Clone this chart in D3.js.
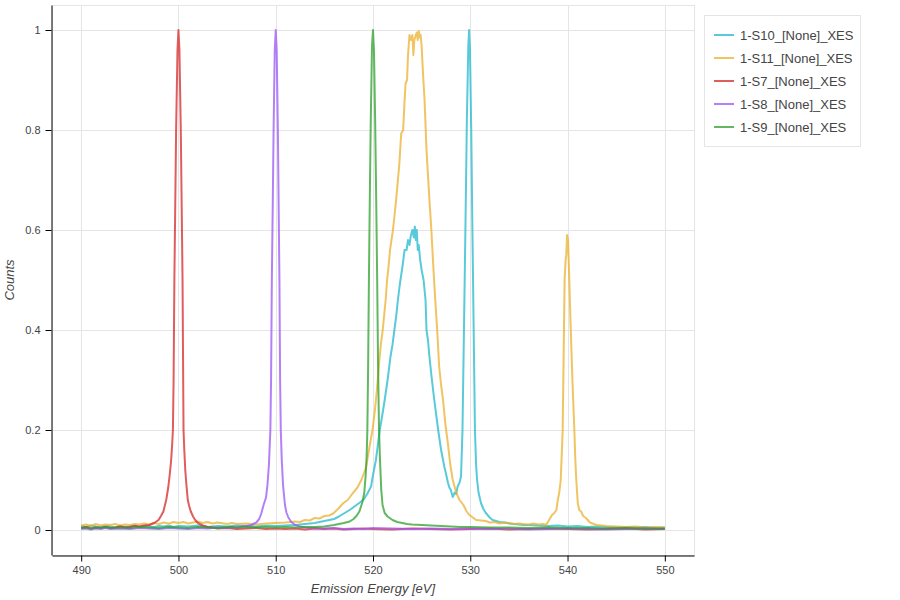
<!DOCTYPE html>
<html>
<head>
<meta charset="utf-8">
<script src="https://cdn.jsdelivr.net/npm/d3@7"></script>
<style>
  body { margin: 0; background: #fff; }
  text { font-family: "Liberation Sans", Arial, Helvetica, sans-serif; fill: #444; }
</style>
</head>
<body>
<div id="graph"></div>
<script>
// series: [energy eV, normalised counts]
const s10 = [
  [490, 0.008], [490.5, 0.006], [491, 0.009], [491.5, 0.007], [492, 0.006], [492.5, 0.008], [493, 0.007], [493.5, 0.005],
  [494, 0.008], [494.5, 0.006], [495, 0.007], [495.5, 0.009], [496, 0.006], [496.5, 0.008], [497, 0.007], [497.5, 0.006],
  [498, 0.008], [498.5, 0.007], [499, 0.009], [499.5, 0.006], [500, 0.008], [501, 0.007], [502, 0.009], [503, 0.006],
  [504, 0.008], [505, 0.007], [506, 0.009], [507, 0.008], [508, 0.007], [509, 0.009], [510, 0.008], [511, 0.009],
  [512, 0.01], [513, 0.012], [514, 0.014], [515, 0.018], [516, 0.022], [516.5, 0.027], [517, 0.033], [517.6, 0.04],
  [518.3, 0.05], [519, 0.06], [519.4, 0.072], [519.8, 0.087], [520, 0.11], [520.3, 0.14], [520.5, 0.17], [520.7, 0.2],
  [521, 0.235], [521.2, 0.26], [521.5, 0.3], [521.8, 0.347], [522, 0.37], [522.2, 0.4], [522.4, 0.43], [522.56, 0.46],
  [522.75, 0.49], [522.9, 0.51], [523.05, 0.53], [523.25, 0.56], [523.45, 0.56], [523.6, 0.58], [523.75, 0.57],
  [523.9, 0.59], [524.05, 0.6], [524.2, 0.585], [524.3, 0.607], [524.4, 0.58], [524.5, 0.6], [524.6, 0.56],
  [524.7, 0.57], [524.85, 0.54], [525, 0.52], [525.2, 0.5], [525.4, 0.46], [525.5, 0.4], [525.65, 0.38], [525.8, 0.347],
  [526, 0.31], [526.3, 0.26], [526.5, 0.23], [526.7, 0.2], [526.85, 0.18], [527, 0.16], [527.2, 0.14], [527.35, 0.125],
  [527.5, 0.113], [527.7, 0.095], [527.85, 0.085], [528, 0.08], [528.2, 0.066], [528.4, 0.075], [528.55, 0.072],
  [528.7, 0.087], [528.9, 0.095], [529.05, 0.107], [529.2, 0.2], [529.35, 0.4], [529.5, 0.6], [529.65, 0.82],
  [529.8, 0.97], [529.88, 1.0], [529.97, 0.96], [530.1, 0.8], [530.22, 0.6], [530.35, 0.4], [530.48, 0.2],
  [530.6, 0.13], [530.7, 0.1], [530.85, 0.075], [531.1, 0.054], [531.35, 0.042], [531.6, 0.034], [532, 0.025],
  [532.3, 0.02], [533, 0.016], [533.5, 0.015], [534, 0.013], [534.5, 0.012], [535, 0.011], [535.5, 0.01], [536, 0.01],
  [537, 0.009], [538, 0.008], [539, 0.009], [540, 0.007], [541, 0.008], [542, 0.006], [543, 0.007], [544, 0.006],
  [545, 0.005], [546, 0.006], [547, 0.005], [548, 0.006], [549, 0.004], [550, 0.005],
];
const s11 = [
  [490, 0.009], [490.5, 0.011], [491, 0.008], [491.5, 0.012], [492, 0.009], [492.5, 0.011], [493, 0.01], [493.5, 0.012],
  [494, 0.009], [494.5, 0.011], [495, 0.01], [495.5, 0.012], [496, 0.011], [496.5, 0.013], [497, 0.011], [497.5, 0.014],
  [498, 0.012], [498.5, 0.015], [499, 0.013], [499.5, 0.016], [500, 0.014], [500.5, 0.016], [501, 0.013], [501.5, 0.015],
  [502, 0.017], [502.5, 0.014], [503, 0.016], [503.5, 0.013], [504, 0.015], [505, 0.012], [505.5, 0.014], [506, 0.012],
  [507, 0.013], [508, 0.011], [509, 0.013], [510, 0.014], [511, 0.015], [512, 0.017], [512.5, 0.016], [513, 0.02],
  [513.5, 0.019], [514, 0.024], [514.5, 0.023], [515, 0.028], [515.5, 0.029], [515.9, 0.033], [516.4, 0.042],
  [516.9, 0.053], [517.4, 0.06], [517.9, 0.073], [518.4, 0.085], [518.8, 0.1], [519.1, 0.115], [519.3, 0.127],
  [519.5, 0.15], [519.7, 0.173], [519.95, 0.2], [520.2, 0.24], [520.4, 0.28], [520.6, 0.327], [520.8, 0.37],
  [521, 0.4], [521.15, 0.43], [521.3, 0.46], [521.45, 0.5], [521.6, 0.527], [521.75, 0.56], [521.9, 0.58],
  [522.05, 0.6], [522.2, 0.627], [522.4, 0.665], [522.56, 0.7], [522.7, 0.73], [522.9, 0.793], [523.1, 0.8],
  [523.25, 0.86], [523.35, 0.893], [523.5, 0.9], [523.6, 0.95], [523.75, 0.99], [523.9, 0.98], [524.05, 0.99],
  [524.15, 0.95], [524.25, 0.98], [524.4, 0.99], [524.5, 0.995], [524.6, 0.98], [524.7, 0.998], [524.8, 0.985],
  [524.9, 0.99], [525, 0.967], [525.15, 0.91], [525.3, 0.86], [525.5, 0.76], [525.65, 0.71], [525.8, 0.66],
  [526, 0.6], [526.2, 0.527], [526.4, 0.46], [526.6, 0.4], [526.8, 0.327], [527, 0.29], [527.2, 0.26], [527.45, 0.21],
  [527.7, 0.173], [527.95, 0.13], [528.2, 0.1], [528.55, 0.075], [528.9, 0.06], [529.3, 0.05], [529.6, 0.038],
  [529.9, 0.03], [530.2, 0.026], [530.6, 0.02], [531.1, 0.019], [531.6, 0.018], [532, 0.015], [532.5, 0.016],
  [533, 0.013], [533.5, 0.015], [534, 0.014], [534.5, 0.012], [535, 0.013], [535.4, 0.012], [536, 0.011],
  [536.5, 0.013], [537, 0.011], [537.5, 0.012], [537.8, 0.01], [538.1, 0.02], [538.4, 0.03], [538.6, 0.033],
  [538.85, 0.04], [539, 0.06], [539.15, 0.075], [539.3, 0.1], [539.4, 0.15], [539.5, 0.2], [539.6, 0.35],
  [539.7, 0.5], [539.8, 0.54], [539.87, 0.55], [539.95, 0.59], [540.05, 0.58], [540.15, 0.52], [540.3, 0.42],
  [540.5, 0.3], [540.7, 0.2], [540.8, 0.14], [540.9, 0.1], [541.05, 0.054], [541.2, 0.04], [541.4, 0.037],
  [541.6, 0.028], [541.9, 0.024], [542.3, 0.015], [542.7, 0.012], [543, 0.01], [543.5, 0.009], [544, 0.008],
  [545, 0.007], [546, 0.006], [547, 0.007], [548, 0.005], [549, 0.006], [550, 0.005],
];
const s7 = [
  [490, 0.004], [490.5, 0.006], [491, 0.003], [491.5, 0.005], [492, 0.004], [492.5, 0.006], [493, 0.004], [493.5, 0.005],
  [494, 0.007], [494.5, 0.005], [495, 0.006], [495.5, 0.008], [496, 0.007], [496.5, 0.009], [497, 0.01], [497.5, 0.014],
  [497.95, 0.02], [498.2, 0.028], [498.45, 0.037], [498.74, 0.06], [498.95, 0.085], [499.1, 0.11], [499.25, 0.14],
  [499.35, 0.17], [499.43, 0.2], [499.5, 0.3], [499.58, 0.5], [499.67, 0.65], [499.76, 0.8], [499.9, 0.96], [500, 1.0],
  [500.1, 0.96], [500.24, 0.8], [500.33, 0.65], [500.42, 0.5], [500.48, 0.32], [500.52, 0.2], [500.6, 0.16],
  [500.7, 0.12], [500.82, 0.09], [500.96, 0.06], [501.1, 0.048], [501.27, 0.037], [501.5, 0.027], [501.72, 0.02],
  [502, 0.014], [502.5, 0.009], [503, 0.006], [503.5, 0.005], [504, 0.003], [505, 0.004], [506, 0.002], [507, 0.003],
  [508, 0.004], [509, 0.002], [510, 0.003], [511, 0.002], [512, 0.003], [513, 0.001], [514, 0.003], [515, 0.002],
  [516, 0.003], [517, 0.001], [518, 0.002], [519, 0.003], [520, 0.002], [522, 0.001], [524, 0.003], [526, 0.002],
  [528, 0.001], [530, 0.002], [532, 0.003], [534, 0.001], [536, 0.002], [538, 0.003], [540, 0.002], [542, 0.001],
  [544, 0.002], [546, 0.003], [548, 0.001], [550, 0.002],
];
const s8 = [
  [490, 0.002], [490.5, 0.003], [491, 0.001], [491.5, 0.003], [492, 0.002], [492.5, 0.004], [493, 0.002], [494, 0.003],
  [495, 0.002], [496, 0.004], [497, 0.003], [498, 0.002], [499, 0.004], [500, 0.003], [501, 0.002], [502, 0.004],
  [503, 0.003], [504, 0.005], [505, 0.004], [505.5, 0.006], [506, 0.005], [506.5, 0.007], [507, 0.008], [507.5, 0.01],
  [508, 0.015], [508.3, 0.022], [508.5, 0.032], [508.75, 0.05], [509, 0.065], [509.15, 0.09], [509.3, 0.13],
  [509.45, 0.2], [509.52, 0.3], [509.6, 0.5], [509.7, 0.66], [509.78, 0.8], [509.9, 0.96], [510, 1.0], [510.1, 0.96],
  [510.22, 0.8], [510.3, 0.65], [510.38, 0.5], [510.45, 0.3], [510.52, 0.2], [510.62, 0.14], [510.75, 0.09],
  [510.95, 0.05], [511.1, 0.035], [511.3, 0.025], [511.6, 0.016], [512, 0.01], [512.5, 0.007], [513, 0.005],
  [514, 0.004], [515, 0.003], [516, 0.004], [517, 0.002], [518, 0.003], [519, 0.002], [520, 0.004], [522, 0.003],
  [524, 0.002], [526, 0.003], [528, 0.002], [530, 0.003], [532, 0.002], [534, 0.003], [536, 0.001], [538, 0.002],
  [540, 0.003], [542, 0.002], [544, 0.001], [546, 0.002], [548, 0.003], [550, 0.002],
];
const s9 = [
  [490, 0.004], [490.5, 0.005], [491, 0.003], [491.5, 0.005], [492, 0.004], [492.5, 0.006], [493, 0.004], [494, 0.005],
  [495, 0.004], [496, 0.006], [497, 0.005], [498, 0.004], [499, 0.006], [500, 0.005], [501, 0.004], [502, 0.006],
  [503, 0.005], [504, 0.004], [505, 0.006], [506, 0.005], [507, 0.006], [508, 0.005], [509, 0.006], [510, 0.005],
  [511, 0.006], [512, 0.005], [513, 0.006], [514, 0.006], [515, 0.007], [516, 0.01], [516.5, 0.012], [517, 0.014],
  [517.6, 0.017], [518, 0.022], [518.3, 0.028], [518.6, 0.037], [518.9, 0.055], [519.1, 0.074], [519.25, 0.11],
  [519.35, 0.15], [519.42, 0.2], [519.5, 0.33], [519.58, 0.5], [519.67, 0.66], [519.77, 0.82], [519.9, 0.97],
  [520, 1.0], [520.1, 0.96], [520.22, 0.82], [520.33, 0.66], [520.43, 0.5], [520.52, 0.33], [520.62, 0.2],
  [520.72, 0.14], [520.85, 0.08], [520.98, 0.05], [521.2, 0.034], [521.5, 0.027], [522, 0.02], [522.5, 0.016],
  [523, 0.014], [523.5, 0.012], [524, 0.011], [525, 0.01], [526, 0.009], [527, 0.008], [528, 0.007], [529, 0.006],
  [530, 0.006], [532, 0.005], [534, 0.005], [536, 0.004], [538, 0.005], [540, 0.004], [542, 0.004], [544, 0.003],
  [546, 0.004], [548, 0.003], [550, 0.003],
];

const seriesNames = ["1-S10_[None]_XES", "1-S11_[None]_XES", "1-S7_[None]_XES", "1-S8_[None]_XES", "1-S9_[None]_XES"];
const seriesData = [s10, s11, s7, s8, s9];
const xTicks = [490, 500, 510, 520, 530, 540, 550];
const yTicks = [0, 0.2, 0.4, 0.6, 0.8, 1];
const xDomain = [487, 553];
const yDomain = [-0.05, 1.05];

const colors = ["#20b8cc", "#ebb02d", "#d62728", "#9b55f5", "#2ca02c"];
const W = 900;
const H = 600;
const plot = { left: 52, right: 694, top: 5, bottom: 555 };

const svg = d3.select("#graph").append("svg").attr("width", W).attr("height", H);

const x = d3.scaleLinear().domain(xDomain).range([plot.left, plot.right]);
const y = d3.scaleLinear().domain(yDomain).range([plot.bottom, plot.top]);

// grid
const grid = svg.append("g").attr("stroke", "#e5e5e5").attr("stroke-width", 1);
grid.selectAll(".gx").data(xTicks).enter().append("line")
  .attr("x1", (d) => Math.round(x(d)) + 0.5).attr("x2", (d) => Math.round(x(d)) + 0.5)
  .attr("y1", plot.top).attr("y2", plot.bottom);
grid.selectAll(".gy").data(yTicks).enter().append("line")
  .attr("y1", (d) => Math.round(y(d)) + 0.5).attr("y2", (d) => Math.round(y(d)) + 0.5)
  .attr("x1", plot.left).attr("x2", plot.right);
svg.append("rect")
  .attr("x", plot.left + 0.5).attr("y", plot.top + 0.5)
  .attr("width", plot.right - plot.left).attr("height", plot.bottom - plot.top)
  .attr("fill", "none").attr("stroke", "#e5e5e5");

// lines
svg.append("clipPath").attr("id", "clip").append("rect")
  .attr("x", plot.left).attr("y", plot.top)
  .attr("width", plot.right - plot.left).attr("height", plot.bottom - plot.top);
const line = d3.line().x((d) => x(d[0])).y((d) => y(d[1]));
svg.append("g").attr("clip-path", "url(#clip)")
  .selectAll("path").data(seriesData).enter().append("path")
  .attr("d", line)
  .attr("fill", "none")
  .attr("stroke", (d, i) => colors[i])
  .attr("stroke-opacity", 0.75)
  .attr("stroke-width", 2)
  .attr("stroke-linejoin", "round");

// axes
const minorX = d3.range(488, 553, 2);
const minorY = d3.range(-0.04, 1.05, 0.04);
const xAxis = svg.append("g").attr("transform", `translate(0,${plot.bottom + 0.5})`);
xAxis.call(d3.axisBottom(x).tickValues(minorX).tickSize(4).tickSizeOuter(0).tickFormat(""));
xAxis.call(d3.axisBottom(x).tickValues(xTicks).tickSize(6).tickSizeOuter(0).tickPadding(5).tickFormat(d3.format("d")));
const yAxis = svg.append("g").attr("transform", `translate(${plot.left - 0.5},0)`);
yAxis.call(d3.axisLeft(y).tickValues(minorY).tickSize(4).tickSizeOuter(0).tickFormat(""));
yAxis.call(d3.axisLeft(y).tickValues(yTicks).tickSize(6).tickSizeOuter(0).tickPadding(5).tickFormat((d) => String(d)));
svg.selectAll(".domain").attr("stroke", "#000");
svg.selectAll(".tick line").attr("stroke", "#000");
svg.selectAll(".tick text").attr("font-size", 11).attr("font-family", null).style("fill", "#444");

// axis titles
svg.append("text")
  .attr("x", (plot.left + plot.right) / 2).attr("y", 593)
  .attr("text-anchor", "middle").attr("font-size", 13).attr("font-style", "italic")
  .text("Emission Energy [eV]");
svg.append("text")
  .attr("transform", `translate(14,${(plot.top + plot.bottom) / 2}) rotate(-90)`)
  .attr("text-anchor", "middle").attr("font-size", 13).attr("font-style", "italic")
  .text("Counts");

// legend
const legend = svg.append("g").attr("transform", "translate(704,15)");
legend.append("rect").attr("x", 0.5).attr("y", 0.5).attr("width", 156).attr("height", 131)
  .attr("fill", "#fff").attr("fill-opacity", 0.95).attr("stroke", "#e5e5e5");
const item = legend.selectAll(".item").data(seriesNames).enter().append("g")
  .attr("transform", (d, i) => `translate(0,${20 + i * 23})`);
item.append("line").attr("x1", 10).attr("x2", 30).attr("y1", 0).attr("y2", 0)
  .attr("stroke", (d, i) => colors[i]).attr("stroke-opacity", 0.75).attr("stroke-width", 2);
item.append("text").attr("x", 36).attr("y", 5).attr("font-size", 13).text((d) => d);
</script>
</body>
</html>
